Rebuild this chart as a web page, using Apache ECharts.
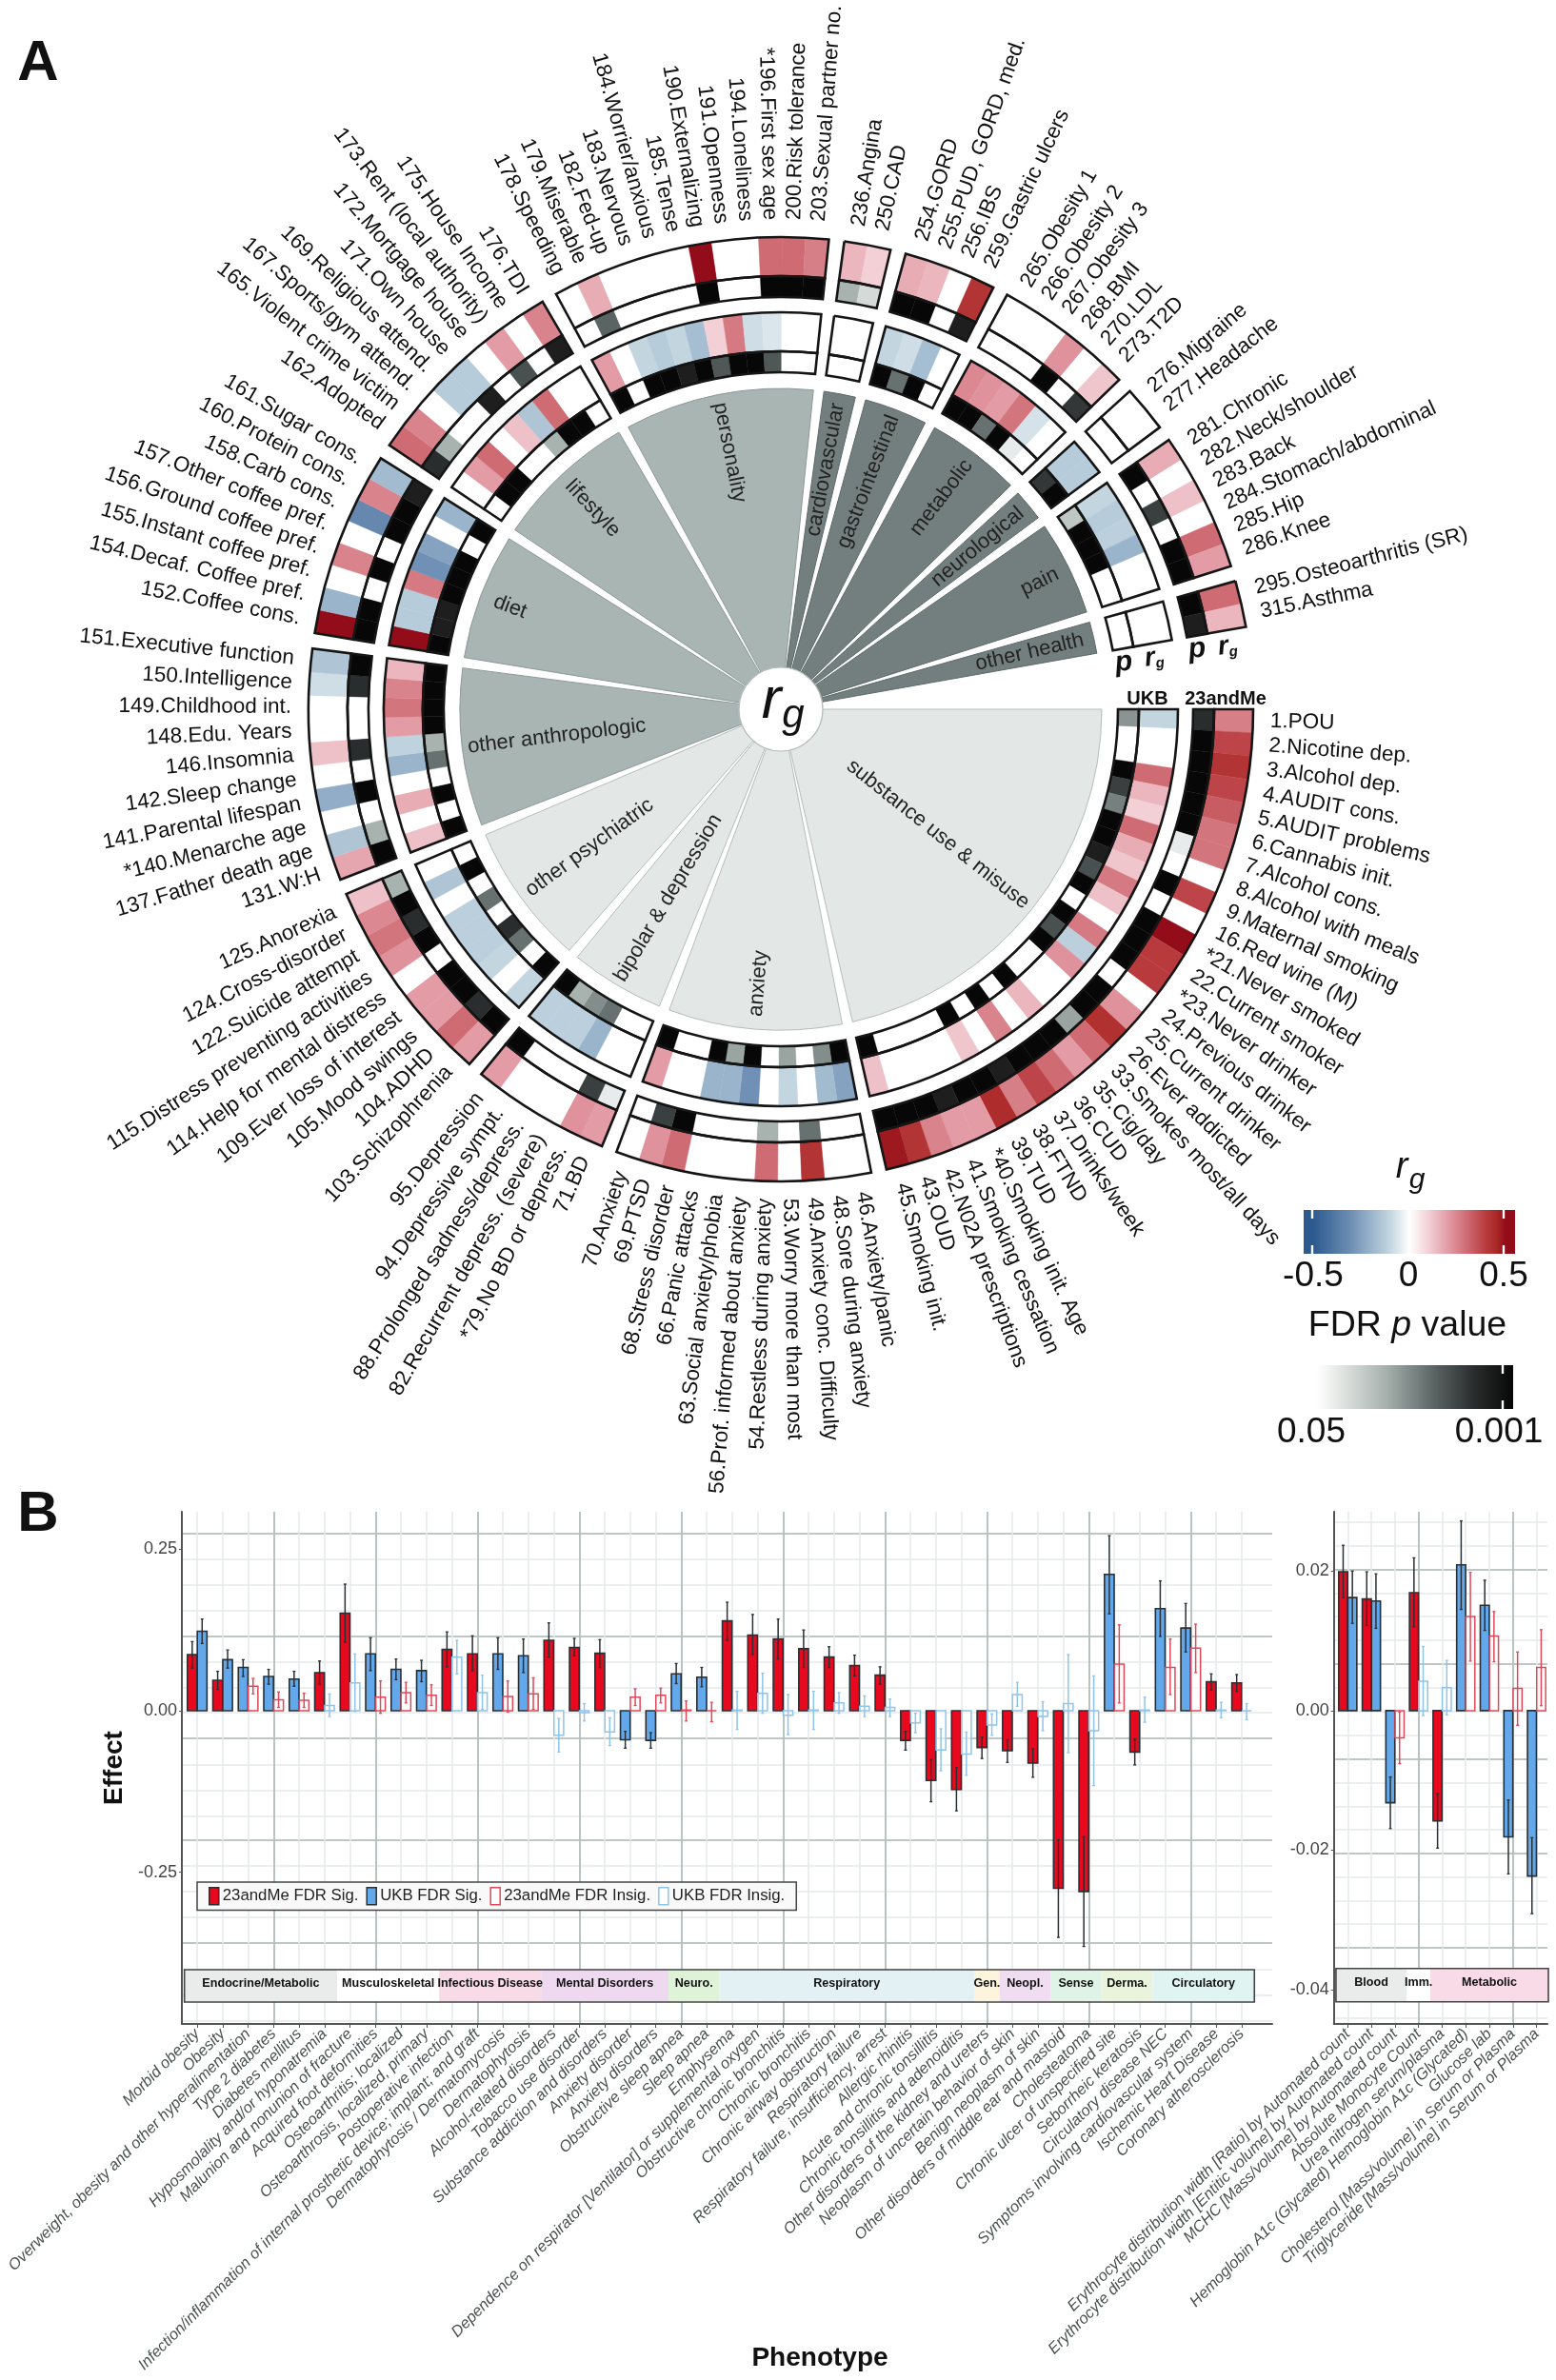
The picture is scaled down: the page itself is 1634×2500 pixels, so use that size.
<!DOCTYPE html>
<html><head><meta charset="utf-8">
<style>html,body{margin:0;padding:0;background:#fff}#c{width:1634px;height:2500px}</style>
<script src="https://cdn.jsdelivr.net/npm/echarts@6/dist/echarts.min.js"></script>
</head><body><div id="c"></div>
<script>
// ---------- Panel A data ----------
const groupNames=['substance use & misuse','anxiety','bipolar & depression','other psychiatric','other anthropologic','diet','lifestyle','personality','cardiovascular','gastrointestinal','metabolic','neurological','pain','other health'];
const groupSizes=[27,11,6,9,10,8,9,12,2,4,6,2,6,2];
const groupTones=[0,0,0,0,1,1,1,1,2,2,2,2,2,2];
const groupLabelRadius=[211,289,231,248,237,304,289,275,256,256,279,268,303,268];
const traits=['1.POU','2.Nicotine dep.','3.Alcohol dep.','4.AUDIT cons.','5.AUDIT problems','6.Cannabis init.','7.Alcohol cons.','8.Alcohol with meals','9.Maternal smoking','16.Red wine (M)','*21.Never smoked','22.Current smoker','*23.Never drinker','24.Previous drinker','25.Current drinker','26.Ever addicted','33.Smokes most/all days','35.Cig/day','36.CUD','37.Drinks/week','38.FTND','39.TUD','*40.Smoking init. Age','41.Smoking cessation','42.N02A prescriptions','43.OUD','45.Smoking init.',
'46.Anxiety/panic','48.Sore during anxiety','49.Anxiety conc. Difficulty','53.Worry more than most','54.Restless during anxiety','56.Prof. informed about anxiety','63.Social anxiety/phobia','66.Panic attacks','68.Stress disorder','69.PTSD','70.Anxiety',
'71.BD','*79.No BD or depress.','82.Recurrent depress. (severe)','88.Prolonged sadness/depress.','94.Depressive sympt.','95.Depression',
'103.Schizophrenia','104.ADHD','105.Mood swings','109.Ever loss of interest','114.Help for mental distress','115.Distress preventing activities','122.Suicide attempt','124.Cross-disorder','125.Anorexia',
'131.W:H','137.Father death age','*140.Menarche age','141.Parental lifespan','142.Sleep change','146.Insomnia','148.Edu. Years','149.Childhood int.','150.Intelligence','151.Executive function',
'152.Coffee cons.','154.Decaf. Coffee pref.','155.Instant coffee pref.','156.Ground coffee pref.','157.Other coffee pref.','158.Carb cons.','160.Protein cons.','161.Sugar cons.',
'162.Adopted','165.Violent crime victim','167.Sports/gym attend.','169.Religious attend.','171.Own house','172.Mortgage house','173.Rent (local authority)','175.House Income','176.TDI',
'178.Speeding','179.Miserable','182.Fed-up','183.Nervous','184.Worrier/anxious','185.Tense','190.Externalizing','191.Openness','194.Loneliness','*196.First sex age','200.Risk tolerance','203.Sexual partner no.',
'236.Angina','250.CAD','254.GORD','255.PUD, GORD, med.','256.IBS','259.Gastric ulcers','265.Obesity 1','266.Obesity 2','267.Obesity 3','268.BMI','270.LDL','273.T2D','276.Migraine','277.Headache','281.Chronic','282.Neck/shoulder','283.Back','284.Stomach/abdominal','285.Hip','286.Knee','295.Osteoarthritis (SR)','315.Asthma'];
const rg23=[.26,.38,.42,.38,.33,.28,.28,0,.38,0,.5,.4,.4,0,.22,.43,.3,.2,.3,.38,.26,.44,.2,.2,.25,.42,.48,
0,0,.42,0,.3,0,0,0,.3,.22,0,
.2,.22,0,0,0,.2,
.2,.3,.2,.2,0,.22,.28,.24,.13,
.18,-.15,0,-.22,0,.13,0,0,-.08,-.15,
.5,-.2,0,.25,0,-.33,.25,-.18,
.3,.25,0,-.13,-.13,0,.2,0,.25,
0,.17,0,0,0,0,.5,0,0,.3,.3,.26,
.15,.1,.17,.15,0,.42,0,0,0,.22,0,.12,0,0,.17,0,.13,0,.3,.2,.3,.15];
const p23=[.003,.001,.001,.001,.001,.001,.045,1,.001,1,.001,.001,.001,1,.001,.001,.025,.001,.001,.001,.002,.001,.001,.002,.001,.001,.001,
1,1,.012,1,.03,1,1,1,.001,.005,1,
.045,.005,1,1,1,.001,
.001,.003,.001,.001,1,.001,.003,.001,.03,
.001,.03,1,.001,1,.003,1,1,.003,.001,
.001,.001,1,.001,1,.001,.001,.002,
.003,.03,1,1,.002,1,.007,1,.002,
1,.01,1,1,1,1,.001,1,1,.001,.001,.001,
.03,.04,.001,.001,1,.002,1,1,1,.001,1,.004,1,1,.001,1,.005,1,.001,.001,.001,.002];
const rgUKB=[-.1,0,0,.3,.15,.1,.3,.17,.12,.27,.13,0,.27,-.12,.22,0,0,.15,0,.25,0,.12,0,0,0,0,.13,
-.25,-.18,0,-.1,0,-.3,-.2,-.2,0,0,.2,
0,0,-.2,-.12,-.12,-.12,
-.1,0,-.1,-.12,-.12,-.12,0,-.15,0,
.13,0,.17,0,-.2,-.11,.2,.28,.25,.15,
.5,-.13,-.13,.27,-.3,-.25,0,-.2,
0,.2,.3,0,.13,-.15,.3,0,0,
.2,0,-.1,-.13,-.1,-.17,.1,.27,-.08,-.06,0,0,
0,0,-.1,-.08,-.17,0,.24,.22,.2,.28,-.07,0,-.13,-.13,-.1,-.13,-.12,-.2,0,0,0,0];
const pUKB=[.02,1,1,.001,.005,.015,.001,.001,.002,.007,.001,1,.001,.007,.001,1,1,.001,1,.001,1,.001,1,1,1,1,.001,
.001,.018,1,.025,1,.001,.025,.001,1,1,.001,
1,1,.012,.018,.03,.001,
.001,1,.012,.003,1,.012,1,.001,1,
.001,1,.001,1,.012,.03,.001,.001,.001,.001,
.001,.002,.002,.001,.001,.001,1,.001,
1,.001,.001,1,1,.03,.001,.001,1,
.001,1,.001,.001,.002,.001,.008,.001,.001,.008,1,1,
1,1,.001,.012,.001,1,.001,.001,.012,.001,.045,1,.004,.001,.035,.001,.001,.001,1,1,1,1];
// ---------- Panel B data ----------
const mainCats=['Morbid obesity','Obesity','Overweight, obesity and other hyperalimentation','Type 2 diabetes','Diabetes mellitus','Hyposmolality and/or hyponatremia','Malunion and nonunion of fracture','Acquired foot deformities','Osteoarthritis; localized','Osteoarthrosis, localized, primary','Postoperative infection','Infection/inflammation of internal prosthetic device; implant; and graft','Dermatophytosis / Dermatomycosis','Dermatophytosis','Alcohol-related disorders','Tobacco use disorder','Substance addiction and disorders','Anxiety disorder','Anxiety disorders','Obstructive sleep apnea','Sleep apnea','Emphysema','Dependence on respirator [Ventilator] or supplemental oxygen','Obstructive chronic bronchitis','Chronic bronchitis','Chronic airway obstruction','Respiratory failure','Respiratory failure, insufficiency, arrest','Allergic rhinitis','Acute and chronic tonsillitis','Chronic tonsillitis and adenoiditis','Other disorders of the kidney and ureters','Neoplasm of uncertain behavior of skin','Benign neoplasm of skin','Other disorders of middle ear and mastoid','Cholesteatoma','Chronic ulcer of unspecified site','Seborrheic keratosis','Circulatory disease NEC','Symptoms involving cardiovascular system','Ischemic Heart Disease','Coronary atherosclerosis'];
const mainLKind=['RS','RS','BS','BS','BS','RS','RS','BS','BS','BS','RS','RS','BS','BS','RS','RS','RS','BS','BS','BS','BS','RS','RS','RS','RS','RS','RS','RS','RS','RS','RS','RS','RS','RS','RS','RS','BS','RS','BS','BS','RS','RS'];
const mainLVal=[.087,.047,.067,.053,.049,.059,.151,.088,.064,.062,.095,.088,.088,.085,.109,.098,.089,-.045,-.046,.057,.052,.139,.117,.111,.096,.083,.07,.055,-.046,-.108,-.122,-.057,-.062,-.081,-.275,-.28,.211,-.064,.158,.128,.045,.043];
const mainLHi=[.107,.061,.079,.064,.061,.077,.196,.113,.08,.078,.122,.116,.113,.111,.136,.112,.11,-.032,-.034,.073,.067,.168,.149,.142,.125,.099,.086,.068,-.032,-.075,-.088,-.041,-.045,-.059,-.2,-.195,.271,-.044,.201,.166,.057,.056];
const mainLLo=[.066,.033,.053,.041,.038,.041,.106,.062,.048,.045,.068,.062,.064,.059,.083,.085,.067,-.058,-.058,.042,.037,.109,.087,.08,.067,.067,.054,.041,-.061,-.141,-.155,-.074,-.08,-.103,-.351,-.365,.15,-.084,.115,.091,.032,.03];
const mainRKind=['BS','BS','RI','RI','RI','BI','BI','RI','RI','RI','BI','BI','RI','RI','BI','BI','BI','RI','RI','RI','RI','BI','BI','BI','BI','BI','BI','BI','BI','BI','BI','BI','BI','BI','BI','BI','RI','BI','RI','RI','BI','BI'];
const mainRVal=[.123,.079,.038,.017,.016,.008,.043,.021,.028,.024,.083,.028,.022,.026,-.038,-.003,-.033,.021,.024,.001,0,.001,.027,-.007,.001,.012,.007,.005,-.019,-.061,-.067,-.022,.025,-.009,.011,-.031,.072,.001,.067,.097,.001,0];
const mainRHi=[.142,.094,.05,.029,.027,.026,.088,.046,.044,.04,.109,.055,.046,.051,-.012,.011,-.011,.034,.035,.015,.013,.03,.058,.025,.03,.028,.023,.018,-.004,-.028,-.033,-.005,.044,.014,.087,.054,.133,.021,.111,.134,.013,.011];
const mainRLo=[.104,.066,.026,.005,.005,-.009,-.001,-.004,.012,.008,.057,.002,-.002,.002,-.064,-.016,-.054,.008,.012,-.016,-.017,-.029,-.004,-.037,-.029,-.004,-.009,-.009,-.034,-.093,-.1,-.038,.007,-.031,-.065,-.116,.012,-.018,.025,.059,-.011,-.014];
const sideCats=['Erythrocyte distribution width [Ratio] by Automated count','Erythrocyte distribution width [Entitic volume] by Automated count','MCHC [Mass/volume] by Automated count','Absolute Monocyte Count','Urea nitrogen serum/plasma','Hemoglobin A1c (Glycated) Hemoglobin A1c (Glycated)','Glucose lab','Cholesterol [Mass/volume] in Serum or Plasma','Triglyceride [Mass/volume] in Serum or Plasma'];
const sideLKind=['RS','RS','BS','RS','RS','BS','BS','BS','BS'];
const sideLVal=[.0199,.016,-.0132,.0169,-.0158,.0209,.0151,-.0181,-.0237];
const sideLHi=[.0237,.0199,-.0095,.0219,-.0119,.0272,.0187,-.0128,-.0182];
const sideLLo=[.0162,.0122,-.0169,.012,-.0197,.0145,.0115,-.0234,-.0291];
const sideRKind=['BS','BS','RI','BI','BI','RI','RI','RI','RI'];
const sideRVal=[.0162,.0157,-.0039,.0042,.0033,.0135,.0107,.0032,.0062];
const sideRHi=[.02,.0196,-.0002,.0092,.0072,.0198,.0142,.0084,.0116];
const sideRLo=[.0125,.0118,-.0076,-.0007,-.0006,.0071,.007,-.0021,.0007];
const kindNames={RS:'23andMe FDR Sig.',BS:'UKB FDR Sig.',RI:'23andMe FDR Insig.',BI:'UKB FDR Insig.'};
const mainStripNames=['Endocrine/Metabolic','Musculoskeletal','Infectious Disease','Mental Disorders','Neuro.','Respiratory','Gen.','Neopl.','Sense','Derma.','Circulatory'];
const mainStripCounts=[6,4,4,5,2,10,1,2,2,2,4];
const mainStripColors=['#e9ecea','#ffffff','#f8dbe7','#efd9f0','#dff3d9','#e3f1f5','#fdf4de','#f1ddf1','#dff3e6','#eaf4dc','#e0f4f2'];
const sideStripNames=['Blood','Imm.','Metabolic'];
const sideStripCounts=[3,1,5];
const sideStripColors=['#e9ecea','#ffffff','#f8dbe7'];
const mainMajorY=[.274,.116,-.043,-.2,-.36];
const mainMinorY=[.235,.195,.155,.076,.036,-.003,-.084,-.124,-.163,-.24,-.28,-.32,-.40,-.44,-.48];
const sideMajorY=[.0202,.0067,-.0069,-.0204,-.0339];
const sideMinorY=[.027,.0236,.0168,.0135,.0101,.0033,-.0001,-.0035,-.0103,-.0137,-.0171,-.0238,-.0272,-.0306,-.0373,-.0407,-.0441];

// ---------- colour scales ----------
const rgStops=[[-.55,'#2c5a8f'],[-.5,'#2c5a8f'],[-.3,'#7090b5'],[-.2,'#9ab4cb'],[-.1,'#c3d6e0'],[0,'#ffffff'],[.1,'#f2d0d6'],[.2,'#e39ca6'],[.3,'#cf6b73'],[.4,'#b93a3d'],[.45,'#ab2a28'],[.5,'#930c19'],[.55,'#930c19']];
const pStops=[[1.3,'#f2f4f2'],[1.35,'#e6eaea'],[1.52,'#a8b2ae'],[1.7,'#8a9492'],[2,'#5a6463'],[2.3,'#3a3f3f'],[2.7,'#1e1e1e'],[3,'#070707']];
function lerpStops(st,v){
  if(v<=st[0][0])return st[0][1];
  for(let i=1;i<st.length;i++){ if(v<=st[i][0]){const t=(v-st[i-1][0])/(st[i][0]-st[i-1][0]);return echarts.color.lerp(t,[st[i-1][1],st[i][1]]);} }
  return st[st.length-1][1];
}
const rgColor=v=>v===0?'#ffffff':lerpStops(rgStops,v);
const pColor=p=>p>=.05?'#ffffff':lerpStops(pStops,-Math.log10(p));

// ---------- polar layout ----------
const gapCells=.66, angleMax=126.1;
const rings=[[354,376],[376,417],[433,455],[455,496]];
const tones=[['#e3e8e6','#b5bdb9'],['#a9b5b3','#8d9997'],['#737f7e','#5e6a69']];
const cellData=[],groupData=[],labelData=[];
let pos=0,ti=0;
groupSizes.forEach((n,g)=>{
  const s=pos;
  for(let k=0;k<n;k++){
    cellData.push([pos,0,pUKB[ti]],[pos,1,rgUKB[ti]],[pos,2,p23[ti]],[pos,3,rg23[ti]]);
    labelData.push([pos+.5,ti]);
    pos++;ti++;
  }
  groupData.push([s,pos,g]);
  pos+=gapCells;
});
function sect(params,api,r0,r1,a0,a1){
  const cx=params.coordSys.cx,cy=params.coordSys.cy;
  const p0=api.coord([r1,a0]),p1=api.coord([r1,a1]),q=api.coord([r0,a0]);
  let s=Math.atan2(p0[1]-cy,p0[0]-cx),e=Math.atan2(p1[1]-cy,p1[0]-cx);
  if(e<s)e+=Math.PI*2;
  return {cx,cy,r0:Math.hypot(q[0]-cx,q[1]-cy),r:Math.hypot(p0[0]-cx,p0[1]-cy),startAngle:s,endAngle:e,clockwise:true};
}
function radialText(params,api,radius,angle,text,style,anchored){
  const cx=params.coordSys.cx,cy=params.coordSys.cy,p=api.coord([radius,angle]);
  let deg=Math.atan2(p[1]-cy,p[0]-cx)*180/Math.PI; if(deg<0)deg+=360;
  const left=deg>90&&deg<270;
  return {type:'text',x:p[0],y:p[1],rotation:-(left?deg-180:deg)*Math.PI/180,silent:true,
    style:Object.assign({text,x:0,y:0,verticalAlign:'middle',align:anchored?(left?'right':'left'):'center',fontFamily:'Liberation Sans'},style)};
}
const polarSeries=[
 {type:'custom',coordinateSystem:'polar',silent:true,z:2,data:groupData,encode:{angle:0},
  renderItem(params,api){const g=api.value(2);
    return {type:'group',children:[
      {type:'sector',shape:sect(params,api,30,337,api.value(0),api.value(1)),style:{fill:tones[groupTones[g]][0],stroke:tones[groupTones[g]][1],lineWidth:1}},
      radialText(params,api,groupLabelRadius[g],(api.value(0)+api.value(1))/2,groupNames[g],{fill:'#222',fontSize:22},false)
    ]};}},
 {type:'custom',coordinateSystem:'polar',silent:true,z:3,data:cellData,encode:{angle:0},
  renderItem(params,api){const ring=api.value(1),v=api.value(2),c=ring%2?rgColor(v):pColor(v),rr=rings[ring];
    return {type:'sector',shape:sect(params,api,rr[0],rr[1],api.value(0),api.value(0)+1),style:{fill:c,stroke:c,lineWidth:.4}};}},
 {type:'custom',coordinateSystem:'polar',silent:true,z:4,data:groupData,encode:{angle:0},
  renderItem(params,api){
    return {type:'group',children:rings.map(rr=>({type:'sector',shape:sect(params,api,rr[0],rr[1],api.value(0),api.value(1)),style:{fill:'none',stroke:'#151515',lineWidth:2.6}}))};}},
 {type:'custom',coordinateSystem:'polar',silent:true,z:5,data:labelData,encode:{angle:0},
  renderItem(params,api){return radialText(params,api,514,api.value(0),traits[api.value(1)],{fill:'#111',fontSize:22.5},true);}}
];

// ---------- panel B series ----------
const barHalf=.19,barOff=.195;
function barRender(kind,gi){
  const sig=kind[1]==='S',red=kind[0]==='R';
  const fill=sig?(red?'#e8091e':'#62a8ea'):'rgba(255,255,255,.55)';
  const line=sig?'#2a2f33':(red?'#e0485a':'#8fc4ec');
  const err=sig?'#2a2f33':(red?'#e0485a':'#8fc4ec');
  return function(params,api){
    const x=api.value(0),v=api.value(1),lo=api.value(2),hi=api.value(3);
    const a=api.coord([x-barHalf,v]),b=api.coord([x+barHalf,0]),c1=api.coord([x,hi]),c2=api.coord([x,lo]);
    return {type:'group',children:[
      {type:'rect',shape:{x:a[0],y:Math.min(a[1],b[1]),width:b[0]-a[0],height:Math.abs(b[1]-a[1])},style:{fill,stroke:line,lineWidth:sig?1.6:1.5}},
      {type:'line',shape:{x1:c1[0],y1:c1[1],x2:c2[0],y2:c2[1]},style:{stroke:err,lineWidth:1.5}},
      {type:'line',shape:{x1:c1[0]-1.5,y1:c1[1],x2:c1[0]+1.5,y2:c1[1]},style:{stroke:err,lineWidth:1.3}},
      {type:'line',shape:{x1:c2[0]-1.5,y1:c2[1],x2:c2[0]+1.5,y2:c2[1]},style:{stroke:err,lineWidth:1.3}}
    ]};
  };
}
function barSeries(idx,LK,LV,LL,LH,RK,RV,RL,RH){
  return ['RS','BS','RI','BI'].map(kind=>{
    const data=[];
    LK.forEach((k,i)=>{ if(k===kind)data.push([i-barOff,LV[i],LL[i],LH[i]]); });
    RK.forEach((k,i)=>{ if(k===kind)data.push([i+barOff,RV[i],RL[i],RH[i]]); });
    return {type:'custom',name:kindNames[kind],coordinateSystem:'cartesian2d',xAxisIndex:idx.x,yAxisIndex:idx.y,z:5,silent:true,data,encode:{x:0,y:1},renderItem:barRender(kind,idx),itemStyle:{color:kind[1]==='S'?(kind[0]==='R'?'#e8091e':'#62a8ea'):'#fff'}};
  });
}
function stripSeries(idx,names,counts,colors,top,bottom,first){
  const data=[];let s=first;
  counts.forEach((n,i)=>{data.push([s,s+n,i]);s+=n;});
  const end=s;
  return [{type:'custom',coordinateSystem:'cartesian2d',xAxisIndex:idx.x,yAxisIndex:idx.y,z:4,silent:true,data,encode:{x:0},
    renderItem(params,api){
      const a=api.coord([api.value(0),top]),b=api.coord([api.value(1),bottom]),i=api.value(2);
      return {type:'group',children:[
        {type:'rect',shape:{x:a[0],y:a[1],width:b[0]-a[0],height:b[1]-a[1]},style:{fill:colors[i]}},
        {type:'text',x:(a[0]+b[0])/2,y:a[1]+15,z2:5,style:{text:names[i],align:'center',verticalAlign:'middle',fill:'#111',fontSize:12.6,fontWeight:'bold',fontFamily:'Liberation Sans'}}
      ]};}},
   {type:'custom',coordinateSystem:'cartesian2d',xAxisIndex:idx.x,yAxisIndex:idx.y,z:5,silent:true,data:[[first,end]],encode:{x:0},
    renderItem(params,api){
      const a=api.coord([api.value(0),top]),b=api.coord([api.value(1),bottom]);
      return {type:'rect',shape:{x:a[0],y:a[1],width:b[0]-a[0],height:b[1]-a[1]},style:{fill:'none',stroke:'#444',lineWidth:1.6}};}}];
}
const majorX=n=>{const a=[];for(let i=3;i<n;i+=4)a.push(i);return a;};
const seq=n=>Array.from({length:n},(_,i)=>i);
function xAxes(grid,cats,min,max){
  return [
   {type:'value',gridIndex:grid,min,max,position:'bottom',
    axisLine:{show:true,onZero:false,lineStyle:{color:'#555',width:2}},
    axisTick:{show:true,customValues:seq(cats.length),length:4,lineStyle:{color:'#555'}},
    axisLabel:{customValues:seq(cats.length),rotate:45,margin:8,fontSize:16.4,fontStyle:'italic',color:'#4a5050',fontFamily:'Liberation Sans',formatter:v=>cats[v]},
    splitLine:{show:true,lineStyle:{color:'#e6eaea',width:1.5}}},
   {type:'value',gridIndex:grid,min,max,position:'bottom',axisLine:{show:false},
    axisTick:{show:false,customValues:majorX(cats.length)},axisLabel:{show:false},
    splitLine:{show:true,lineStyle:{color:'#a8b5b0',width:1.5}}}
  ];
}
function yAxes(grid,min,max,ticks,fmt,major,minor,name){
  return [
   {type:'value',gridIndex:grid,min,max,position:'left',name,nameLocation:'middle',nameRotate:90,nameGap:52,
    nameTextStyle:{fontSize:28,fontWeight:'bold',color:'#111',fontFamily:'Liberation Sans'},
    axisLine:{show:true,onZero:false,lineStyle:{color:'#555',width:2}},
    axisTick:{show:true,customValues:ticks,length:3,lineStyle:{color:'#555'}},
    axisLabel:{customValues:ticks,fontSize:18,color:'#444',margin:5,fontFamily:'Liberation Sans',formatter:fmt},
    splitLine:{show:false}},
   {type:'value',gridIndex:grid,min,max,position:'left',axisLine:{show:false},axisTick:{show:false,customValues:minor},axisLabel:{show:false},splitLine:{show:true,lineStyle:{color:'#e6eaea',width:1.5}}},
   {type:'value',gridIndex:grid,min,max,position:'left',axisLine:{show:false},axisTick:{show:false,customValues:major},axisLabel:{show:false},splitLine:{show:true,lineStyle:{color:'#a8b5b0',width:1.5}}}
  ];
}
const series=[].concat(polarSeries,
  barSeries({x:0,y:0},mainLKind,mainLVal,mainLLo,mainLHi,mainRKind,mainRVal,mainRLo,mainRHi),
  barSeries({x:2,y:3},sideLKind,sideLVal,sideLLo,sideLHi,sideRKind,sideRVal,sideRLo,sideRHi),
  stripSeries({x:0,y:0},mainStripNames,mainStripCounts,mainStripColors,-.401,-.451,-.5),
  stripSeries({x:2,y:3},sideStripNames,sideStripCounts,sideStripColors,-.03696,-.04173,-.5));

// ---------- legend gradients ----------
const rgGrad=rgStops.map(s=>({offset:(s[0]+.55)/1.1,color:s[1]}));
const pGrad=[{offset:0,color:'#ffffff'},{offset:.06,color:'#f2f4f2'},{offset:.35,color:'#a8b2ae'},{offset:.6,color:'#5a6463'},{offset:.8,color:'#2a2d2d'},{offset:1,color:'#070707'}];
const F='Liberation Sans';
const txt=(x,y,text,fontSize,extra)=>({type:'text',x,y,z:20,silent:true,style:Object.assign({text,fontSize,fontFamily:F,fill:'#111',align:'center',verticalAlign:'middle'},extra||{})});
const rich={r:{fontStyle:'italic',fontWeight:'bold',fontSize:28,fontFamily:F,fill:'#111'},g:{fontStyle:'italic',fontWeight:'bold',fontSize:15,fontFamily:F,fill:'#111',verticalAlign:'bottom',padding:[10,0,0,0]}};
const tick=(x,y,h)=>({type:'rect',z:21,silent:true,shape:{x:x-1.2,y,width:2.4,height:h},style:{fill:'#fff'}});
const graphicEls=[
  {type:'circle',z:19,silent:true,shape:{cx:820,cy:745,r:44},style:{fill:'#fff',stroke:'#b5bdb9',lineWidth:1.2}},
  txt(810,737,'r',62,{fontStyle:'italic'}),txt(833,752,'g',42,{fontStyle:'italic'}),
  txt(40,67,'A',60,{fontWeight:'bold'}),txt(40,1591,'B',60,{fontWeight:'bold'}),
  txt(1205,734,'UKB',20,{fontWeight:'bold'}),txt(1287,734,'23andMe',20,{fontWeight:'bold'}),
  Object.assign(txt(1180,696,'p',30,{fontWeight:'bold',fontStyle:'italic'}),{rotation:.12}),
  Object.assign(txt(1212,691,'{r|r}{g|g}',28,{rich}),{rotation:.12}),
  Object.assign(txt(1257,682,'p',30,{fontWeight:'bold',fontStyle:'italic'}),{rotation:.12}),
  Object.assign(txt(1289,679,'{r|r}{g|g}',28,{rich}),{rotation:.12}),
  txt(1472,1226,'r',38,{fontStyle:'italic'}),txt(1488,1240,'g',30,{fontStyle:'italic'}),
  {type:'rect',z:20,silent:true,shape:{x:1369,y:1271,width:222,height:46},style:{fill:new echarts.graphic.LinearGradient(0,0,1,0,rgGrad)}},
  tick(1378,1271,9),tick(1378,1308,9),tick(1579,1271,9),tick(1579,1308,9),
  txt(1379,1341,'-0.5',37),txt(1479,1341,'0',37),txt(1579,1341,'0.5',37),
  {type:'text',x:1478,y:1393,z:20,silent:true,style:{text:'{a|FDR }{b|p}{a| value}',align:'center',verticalAlign:'middle',fill:'#111',rich:{a:{fontSize:37.5,fontFamily:F,fill:'#111'},b:{fontSize:37.5,fontFamily:F,fontStyle:'italic',fill:'#111'}}}},
  {type:'rect',z:20,silent:true,shape:{x:1382,y:1434,width:207,height:46},style:{fill:new echarts.graphic.LinearGradient(0,0,1,0,pGrad)}},
  tick(1578,1434,9),tick(1578,1471,9),
  txt(1377,1505,'0.05',37),txt(1574,1505,'0.001',37),
  txt(861,2477,'Phenotype',28,{fontWeight:'bold'})
];
const chart=echarts.init(document.getElementById('c'));
chart.setOption({
  animation:false,backgroundColor:'#fff',
  polar:{center:[820,745],radius:[0,520]},
  angleAxis:{type:'value',min:0,max:angleMax,startAngle:0,clockwise:true,show:false},
  radiusAxis:{type:'value',min:0,max:520,show:false},
  grid:[{left:191,top:1588,width:1145,height:538,containLabel:false},{left:1400.7,top:1588,width:224.3,height:538,containLabel:false}],
  xAxis:[...xAxes(0,mainCats,-.6,42.2),...xAxes(1,sideCats,-.59,8.46)],
  yAxis:[...yAxes(0,-.485,.308,[-.25,0,.25],v=>v.toFixed(2),mainMajorY,mainMinorY,'Effect'),
         ...yAxes(1,-.0449,.0285,[-.04,-.02,0,.02],v=>v.toFixed(2),sideMajorY,sideMinorY,'')],
  legend:{left:207,top:1977,orient:'horizontal',selectedMode:false,icon:'rect',itemWidth:10,itemHeight:18,itemGap:8,padding:[5,12],
    backgroundColor:'#f8f9f8',borderColor:'#444',borderWidth:1.5,
    textStyle:{fontSize:16.8,color:'#222',fontFamily:F,padding:[0,0,0,-1]},
    data:[{name:kindNames.RS,itemStyle:{color:'#e8091e',borderColor:'#2a2f33',borderWidth:1.5}},
          {name:kindNames.BS,itemStyle:{color:'#62a8ea',borderColor:'#2a2f33',borderWidth:1.5}},
          {name:kindNames.RI,itemStyle:{color:'#fff',borderColor:'#e0485a',borderWidth:1.5}},
          {name:kindNames.BI,itemStyle:{color:'#fff',borderColor:'#8fc4ec',borderWidth:1.5}}]},
  series,
  graphic:{elements:graphicEls}
});
</script></body></html>
